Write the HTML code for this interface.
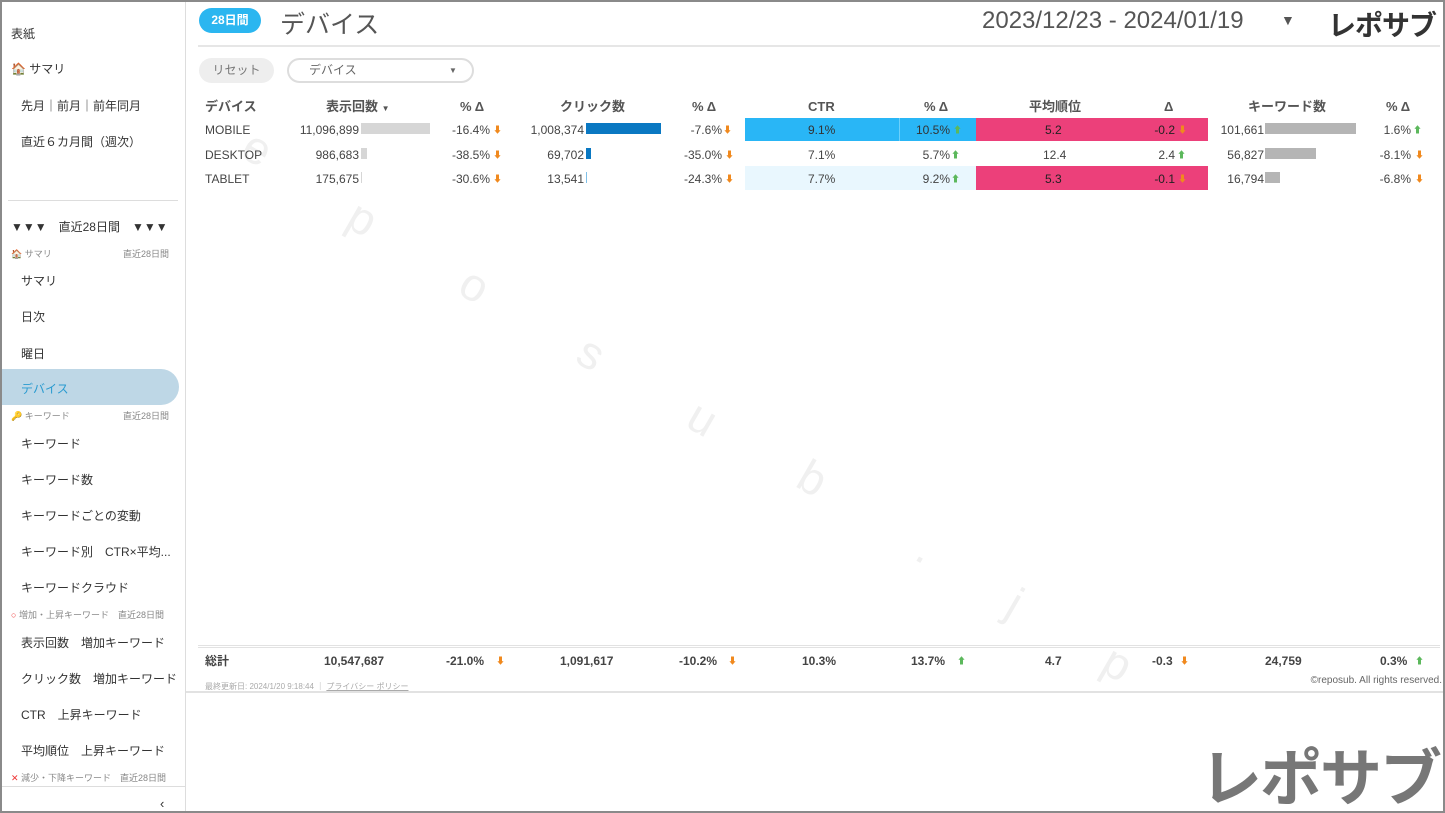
<!DOCTYPE html>
<html><head><meta charset="utf-8"><style>
*{box-sizing:border-box;margin:0;padding:0}
html,body{width:1445px;height:813px;overflow:hidden}
body{position:relative;background:#fff;font-family:"Liberation Sans","Noto Sans CJK JP",sans-serif;color:#444}
.a{position:absolute;white-space:nowrap}
.frame{position:absolute;left:0;top:0;width:1445px;height:813px;border:2px solid #8a8a8a;pointer-events:none;z-index:10}
.side{position:absolute;left:0;top:0;width:186px;height:813px;border-right:1px solid #ddd;background:#fff;z-index:2}
.si{font-size:12px;color:#333}
.sh{font-size:9px;color:#888}
.num{font-size:12px;color:#444;line-height:14px}
.hd{font-size:13px;font-weight:bold;color:#555;line-height:14px}
.up{color:#5cb85c;font-size:9px}
.dn{color:#f0891e;font-size:9px}
.tot{font-size:12px;font-weight:bold;color:#444;line-height:14px}
.w{position:absolute;font-size:46px;color:#f0f0f0;transform:rotate(30deg);line-height:46px}
</style></head><body>
<div class="w" style="left:135px;top:55px">r</div>
<div class="w" style="left:245px;top:125px">e</div>
<div class="w" style="left:350px;top:195px">p</div>
<div class="w" style="left:462px;top:262px">o</div>
<div class="w" style="left:580px;top:330px">s</div>
<div class="w" style="left:690px;top:395px">u</div>
<div class="w" style="left:800px;top:455px">b</div>
<div class="w" style="left:920px;top:525px">.</div>
<div class="w" style="left:1010px;top:580px">j</div>
<div class="w" style="left:1105px;top:640px">p</div>

<div class="side">
<div class="a si" style="left:11px;top:25px">表紙</div>
<div class="a si" style="left:11px;top:60px">🏠 サマリ</div>
<div class="a si" style="left:21px;top:97px">先月｜前月｜前年同月</div>
<div class="a si" style="left:21px;top:133px">直近６カ月間（週次）</div>
<div class="a" style="left:8px;top:200px;width:170px;border-top:1px solid #ddd"></div>
<div class="a si" style="left:11px;top:218px">▼▼▼　直近28日間　▼▼▼</div>
<div class="a sh" style="left:11px;top:247px">🏠 サマリ</div><div class="a sh" style="left:123px;top:247px">直近28日間</div>
<div class="a si" style="left:21px;top:272px">サマリ</div>
<div class="a si" style="left:21px;top:308px">日次</div>
<div class="a si" style="left:21px;top:345px">曜日</div>
<div class="a" style="left:0;top:369px;width:179px;height:36px;background:#bed7e6;border-radius:0 18px 18px 0"></div>
<div class="a si" style="left:21px;top:380px;color:#2a9bd0">デバイス</div>
<div class="a sh" style="left:11px;top:409px">🔑 キーワード</div><div class="a sh" style="left:123px;top:409px">直近28日間</div>
<div class="a si" style="left:21px;top:435px">キーワード</div>
<div class="a si" style="left:21px;top:471px">キーワード数</div>
<div class="a si" style="left:21px;top:507px">キーワードごとの変動</div>
<div class="a si" style="left:21px;top:543px">キーワード別　CTR×平均...</div>
<div class="a si" style="left:21px;top:579px">キーワードクラウド</div>
<div class="a sh" style="left:11px;top:608px"><span style="color:#e33">○</span> 増加・上昇キーワード　直近28日間</div>
<div class="a si" style="left:21px;top:634px">表示回数　増加キーワード</div>
<div class="a si" style="left:21px;top:670px">クリック数　増加キーワード</div>
<div class="a si" style="left:21px;top:706px">CTR　上昇キーワード</div>
<div class="a si" style="left:21px;top:742px">平均順位　上昇キーワード</div>
<div class="a sh" style="left:11px;top:771px"><span style="color:#e33">✕</span> 減少・下降キーワード　直近28日間</div>
<div class="a" style="left:0;top:786px;width:186px;border-top:1px solid #ddd"></div>
<div class="a" style="left:160px;top:796px;font-size:13px;color:#333">‹</div>
</div>

<div class="a" style="left:199px;top:8px;width:62px;height:25px;border-radius:13px;background:#2bb6f0;color:#fff;font-size:12px;font-weight:bold;text-align:center;line-height:25px">28日間</div>
<div class="a" style="left:280px;top:5px;font-size:25px;color:#555">デバイス</div>
<div class="a" style="left:982px;top:7px;font-size:24px;color:#555">2023/12/23 - 2024/01/19</div>
<div class="a" style="left:1281px;top:12px;font-size:14px;color:#555">▼</div>
<div class="a" style="left:1328px;top:4px;font-size:28px;font-weight:bold;color:#333;letter-spacing:-1px">レポサブ</div>
<div class="a" style="left:198px;top:45px;width:1242px;border-top:2px solid #e6e6e6"></div>
<div class="a" style="left:199px;top:58px;width:75px;height:25px;border-radius:13px;background:#eee;font-size:12px;color:#777;text-align:center;line-height:25px">リセット</div>
<div class="a" style="left:287px;top:58px;width:187px;height:25px;border-radius:13px;border:2px solid #ddd;font-size:12px;color:#666;line-height:21px;padding-left:20px">デバイス<span style="position:absolute;left:160px;font-size:8px">▼</span></div>

<div class="a hd" style="left:205px;top:100px">デバイス</div>
<div class="a hd" style="left:326px;top:100px">表示回数 <span style="font-size:8px">▼</span></div>
<div class="a hd" style="left:460px;top:100px">% Δ</div>
<div class="a hd" style="left:560px;top:100px">クリック数</div>
<div class="a hd" style="left:692px;top:100px">% Δ</div>
<div class="a hd" style="left:808px;top:100px">CTR</div>
<div class="a hd" style="left:924px;top:100px">% Δ</div>
<div class="a hd" style="left:1029px;top:100px">平均順位</div>
<div class="a hd" style="left:1164px;top:100px">Δ</div>
<div class="a hd" style="left:1248px;top:100px">キーワード数</div>
<div class="a hd" style="left:1386px;top:100px">% Δ</div>

<div class="a" style="left:745px;top:118px;width:231px;height:23px;background:#29b6f6"></div>
<div class="a" style="left:899px;top:118px;width:1px;height:23px;background:#6cd0fb"></div>
<div class="a" style="left:976px;top:118px;width:232px;height:23px;background:#ec407a"></div>
<div class="a" style="left:745px;top:166px;width:231px;height:24px;background:#e9f7fe"></div>
<div class="a" style="left:976px;top:166px;width:232px;height:24px;background:#ec407a"></div>

<div class="a" style="left:361px;top:123px;width:69px;height:11px;background:#d6d6d6"></div>
<div class="a" style="left:361px;top:148px;width:6px;height:11px;background:#d6d6d6"></div>
<div class="a" style="left:361px;top:172px;width:1px;height:11px;background:#d6d6d6"></div>
<div class="a" style="left:586px;top:123px;width:75px;height:11px;background:#0a78c2"></div>
<div class="a" style="left:586px;top:148px;width:5px;height:11px;background:#0a78c2"></div>
<div class="a" style="left:586px;top:172px;width:1px;height:11px;background:#7fc0e8"></div>
<div class="a" style="left:1265px;top:123px;width:91px;height:11px;background:#b5b5b5"></div>
<div class="a" style="left:1265px;top:148px;width:51px;height:11px;background:#b5b5b5"></div>
<div class="a" style="left:1265px;top:172px;width:15px;height:11px;background:#b5b5b5"></div>

<div class="a num" style="left:205px;top:123px">MOBILE</div>
<div class="a num" style="left:205px;top:148px">DESKTOP</div>
<div class="a num" style="left:205px;top:172px">TABLET</div>
<div class="a num" style="right:1086px;top:123px">11,096,899</div>
<div class="a num" style="right:1086px;top:148px">986,683</div>
<div class="a num" style="right:1086px;top:172px">175,675</div>
<div class="a num" style="right:955px;top:123px">-16.4%</div><div class="a dn" style="left:493px;top:123px">⬇</div>
<div class="a num" style="right:955px;top:148px">-38.5%</div><div class="a dn" style="left:493px;top:148px">⬇</div>
<div class="a num" style="right:955px;top:172px">-30.6%</div><div class="a dn" style="left:493px;top:172px">⬇</div>
<div class="a num" style="right:861px;top:123px">1,008,374</div>
<div class="a num" style="right:861px;top:148px">69,702</div>
<div class="a num" style="right:861px;top:172px">13,541</div>
<div class="a num" style="right:723px;top:123px">-7.6%</div><div class="a dn" style="left:723px;top:123px">⬇</div>
<div class="a num" style="right:723px;top:148px">-35.0%</div><div class="a dn" style="left:725px;top:148px">⬇</div>
<div class="a num" style="right:723px;top:172px">-24.3%</div><div class="a dn" style="left:725px;top:172px">⬇</div>
<div class="a num" style="left:808px;top:123px;color:#333">9.1%</div>
<div class="a num" style="left:808px;top:148px">7.1%</div>
<div class="a num" style="left:808px;top:172px">7.7%</div>
<div class="a num" style="right:495px;top:123px;color:#333">10.5%</div><div class="a up" style="left:953px;top:123px">⬆</div>
<div class="a num" style="right:495px;top:148px">5.7%</div><div class="a up" style="left:951px;top:148px">⬆</div>
<div class="a num" style="right:495px;top:172px">9.2%</div><div class="a up" style="left:951px;top:172px">⬆</div>
<div class="a num" style="left:1045px;top:123px;color:#222">5.2</div>
<div class="a num" style="left:1043px;top:148px">12.4</div>
<div class="a num" style="left:1045px;top:172px;color:#222">5.3</div>
<div class="a num" style="right:270px;top:123px;color:#222">-0.2</div><div class="a dn" style="left:1178px;top:123px">⬇</div>
<div class="a num" style="right:270px;top:148px">2.4</div><div class="a up" style="left:1177px;top:148px">⬆</div>
<div class="a num" style="right:270px;top:172px;color:#222">-0.1</div><div class="a dn" style="left:1178px;top:172px">⬇</div>
<div class="a num" style="right:181px;top:123px">101,661</div>
<div class="a num" style="right:181px;top:148px">56,827</div>
<div class="a num" style="right:181px;top:172px">16,794</div>
<div class="a num" style="right:34px;top:123px">1.6%</div><div class="a up" style="left:1413px;top:123px">⬆</div>
<div class="a num" style="right:34px;top:148px">-8.1%</div><div class="a dn" style="left:1415px;top:148px">⬇</div>
<div class="a num" style="right:34px;top:172px">-6.8%</div><div class="a dn" style="left:1415px;top:172px">⬇</div>

<div class="a" style="left:198px;top:645px;width:1242px;border-top:3px double #e2e2e2;height:4px"></div>
<div class="a tot" style="left:205px;top:654px">総計</div>
<div class="a tot" style="left:324px;top:654px">10,547,687</div>
<div class="a tot" style="left:446px;top:654px">-21.0%</div><div class="a dn" style="left:496px;top:654px">⬇</div>
<div class="a tot" style="left:560px;top:654px">1,091,617</div>
<div class="a tot" style="left:679px;top:654px">-10.2%</div><div class="a dn" style="left:728px;top:654px">⬇</div>
<div class="a tot" style="left:802px;top:654px">10.3%</div>
<div class="a tot" style="left:911px;top:654px">13.7%</div><div class="a up" style="left:957px;top:654px">⬆</div>
<div class="a tot" style="left:1045px;top:654px">4.7</div>
<div class="a tot" style="left:1152px;top:654px">-0.3</div><div class="a dn" style="left:1180px;top:654px">⬇</div>
<div class="a tot" style="left:1265px;top:654px">24,759</div>
<div class="a tot" style="left:1380px;top:654px">0.3%</div><div class="a up" style="left:1415px;top:654px">⬆</div>
<div class="a" style="left:205px;top:681px;font-size:8px;color:#aaa">最終更新日: 2024/1/20 9:18:44 ｜ <u>プライバシー ポリシー</u></div>
<div class="a" style="right:3px;top:675px;font-size:10px;color:#666">©reposub. All rights reserved.</div>
<div class="a" style="left:186px;top:691px;width:1257px;border-top:2px solid #e2e2e2"></div>
<div class="a" style="left:1200px;top:728px;font-size:62px;font-weight:bold;color:#777;letter-spacing:-2px">レポサブ</div>
<div class="frame"></div>
</body></html>
